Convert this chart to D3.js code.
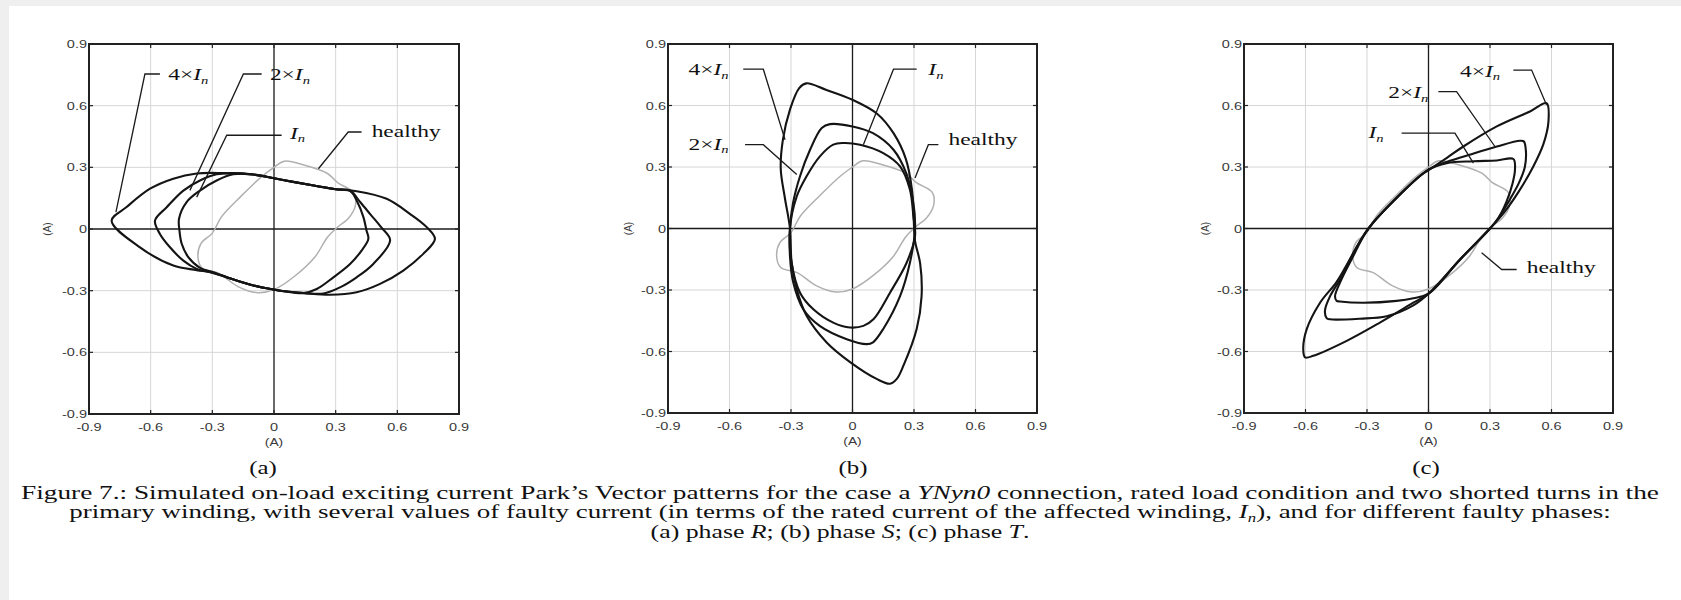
<!DOCTYPE html>
<html><head><meta charset="utf-8">
<script src="https://cdn.jsdelivr.net/npm/d3@7"></script>
<style>
html,body{margin:0;padding:0;background:#fff;}
svg{display:block;}
</style></head>
<body>
<svg id="fig" width="1681" height="600"></svg>
<script>
// Axis ticks shared by all three panels
const tickValues = [-0.9, -0.6, -0.3, 0, 0.3, 0.6, 0.9];
const tickLabels = ["-0.9", "-0.6", "-0.3", "0", "0.3", "0.6", "0.9"];
const panelLetters = ["(a)", "(b)", "(c)"];

// Park's vector locus, healthy transformer (same in every panel) [iD, iQ] in A
const healthy = [[0.05,0.33],[0.15,0.31],[0.26,0.27],[0.31,0.225],[0.39,0.175],[0.395,0.11],[0.36,0.05],[0.31,0.01],[0.26,-0.04],[0.2,-0.135],[0.1,-0.23],[0.0,-0.295],[-0.08,-0.31],[-0.175,-0.28],[-0.27,-0.215],[-0.35,-0.19],[-0.37,-0.135],[-0.355,-0.07],[-0.3,-0.02],[-0.255,0.06],[-0.16,0.16],[-0.06,0.255],[0.0,0.3]];

// (a) faulty phase R
const phaseR_In  = [[-0.462,0.05],[-0.425,0.131],[-0.36,0.187],[-0.279,0.236],[-0.198,0.266],[-0.1,0.265],[0,0.247],[0.1,0.228],[0.2,0.21],[0.3,0.193],[0.37,0.186],[0.402,0.139],[0.435,0.058],[0.45,-0.007],[0.459,-0.048],[0.426,-0.105],[0.37,-0.17],[0.289,-0.235],[0.208,-0.292],[0.143,-0.312],[0.05,-0.303],[0,-0.295],[-0.1,-0.275],[-0.2,-0.245],[-0.295,-0.21],[-0.36,-0.189],[-0.417,-0.137],[-0.449,-0.072],[-0.46,-0.007]];
const phaseR_2In = [[-0.579,0.041],[-0.522,0.106],[-0.441,0.187],[-0.36,0.236],[-0.279,0.266],[-0.2,0.272],[-0.1,0.265],[0,0.247],[0.1,0.228],[0.2,0.21],[0.3,0.193],[0.37,0.186],[0.42,0.13],[0.47,0.07],[0.52,0.01],[0.565,-0.055],[0.483,-0.17],[0.402,-0.235],[0.321,-0.284],[0.24,-0.314],[0.15,-0.312],[0.05,-0.303],[0,-0.295],[-0.1,-0.275],[-0.2,-0.245],[-0.3,-0.213],[-0.376,-0.194],[-0.441,-0.154],[-0.506,-0.089],[-0.555,-0.024]];
const phaseR_4In = [[-0.79,0.04],[-0.717,0.107],[-0.603,0.196],[-0.49,0.245],[-0.376,0.27],[-0.25,0.272],[-0.1,0.265],[0,0.247],[0.1,0.228],[0.2,0.21],[0.3,0.193],[0.402,0.184],[0.548,0.147],[0.661,0.074],[0.743,0.009],[0.783,-0.048],[0.726,-0.121],[0.629,-0.202],[0.516,-0.267],[0.402,-0.308],[0.272,-0.32],[0.15,-0.312],[0.05,-0.303],[0,-0.295],[-0.1,-0.275],[-0.2,-0.245],[-0.3,-0.213],[-0.376,-0.2],[-0.49,-0.178],[-0.652,-0.089]];

// (b) faulty phase S
const phaseS_In  = [[-0.305,0.0],[-0.272,0.157],[-0.224,0.255],[-0.159,0.352],[-0.094,0.409],[-0.045,0.417],[0.037,0.409],[0.15,0.368],[0.232,0.303],[0.28,0.19],[0.297,0.06],[0.305,-0.037],[0.264,-0.167],[0.183,-0.313],[0.102,-0.443],[0.053,-0.475],[-0.012,-0.483],[-0.094,-0.459],[-0.191,-0.394],[-0.256,-0.313],[-0.297,-0.167]];
const phaseS_2In = [[-0.305,0.0],[-0.29,0.125],[-0.256,0.255],[-0.207,0.384],[-0.15,0.49],[-0.11,0.509],[0.0,0.498],[0.1,0.465],[0.2,0.384],[0.262,0.27],[0.297,0.125],[0.305,-0.005],[0.28,-0.167],[0.232,-0.33],[0.15,-0.49],[0.1,-0.555],[0.07,-0.564],[-0.028,-0.54],[-0.16,-0.475],[-0.24,-0.394],[-0.289,-0.264],[-0.305,-0.135]];
const phaseS_4In = [[-0.305,0.0],[-0.33,0.15],[-0.35,0.29],[-0.34,0.43],[-0.305,0.58],[-0.26,0.685],[-0.225,0.708],[-0.13,0.677],[0.0,0.628],[0.12,0.56],[0.2,0.465],[0.26,0.34],[0.29,0.19],[0.298,0.06],[0.305,-0.06],[0.33,-0.17],[0.337,-0.33],[0.313,-0.49],[0.25,-0.665],[0.215,-0.735],[0.183,-0.757],[0.12,-0.735],[-0.01,-0.653],[-0.126,-0.556],[-0.224,-0.426],[-0.272,-0.297],[-0.297,-0.167]];

// (c) faulty phase T
const phaseT_In  = [[-0.448,-0.353],[-0.456,-0.33],[-0.43,-0.26],[-0.375,-0.15],[-0.293,0.0],[-0.155,0.15],[0.0,0.287],[0.089,0.319],[0.219,0.328],[0.333,0.332],[0.414,0.339],[0.422,0.29],[0.41,0.22],[0.38,0.13],[0.34,0.05],[0.3,0.0],[0.154,-0.151],[0.0,-0.318],[-0.074,-0.34],[-0.155,-0.353],[-0.318,-0.362],[-0.432,-0.356]];
const phaseT_2In = [[-0.497,-0.437],[-0.505,-0.4],[-0.48,-0.33],[-0.42,-0.23],[-0.375,-0.135],[-0.293,0.0],[-0.155,0.15],[0.0,0.287],[0.105,0.33],[0.2,0.36],[0.333,0.4],[0.446,0.428],[0.465,0.425],[0.475,0.38],[0.47,0.3],[0.44,0.22],[0.39,0.13],[0.34,0.05],[0.3,0.0],[0.154,-0.151],[0.0,-0.318],[-0.074,-0.375],[-0.204,-0.428],[-0.334,-0.44],[-0.48,-0.443]];
const phaseT_4In = [[-0.602,-0.629],[-0.611,-0.589],[-0.594,-0.491],[-0.529,-0.362],[-0.448,-0.26],[-0.375,-0.135],[-0.293,0.0],[-0.155,0.15],[-0.05,0.25],[0.0,0.285],[0.09,0.345],[0.17,0.4],[0.333,0.498],[0.495,0.571],[0.576,0.611],[0.585,0.52],[0.56,0.41],[0.51,0.3],[0.44,0.18],[0.37,0.08],[0.3,0.0],[0.154,-0.151],[0.0,-0.318],[-0.074,-0.362],[-0.237,-0.459],[-0.399,-0.548],[-0.562,-0.621]];

// Label pieces: plain text, italic I, italic subscript n
const labelParts = {
  "4In": [{t:"4×"},{t:"I",i:true},{t:"n",i:true,sub:true}],
  "2In": [{t:"2×"},{t:"I",i:true},{t:"n",i:true,sub:true}],
  "In":  [{t:"I",i:true},{t:"n",i:true,sub:true}],
  "healthy": [{t:"healthy"}]
};

// Layout of the three panels and their callouts (callouts in data units)
const panels = [
  { left: 89, top: 44, size: 370, letterX: 263, yLabelOff: 42,
    curves: {healthy: healthy, In: phaseR_In, "2In": phaseR_2In, "4In": phaseR_4In},
    notes: [
      {key:"4In", at:[-0.514,0.749], leader:[[-0.555,0.754],[-0.628,0.754],[-0.769,0.082]]},
      {key:"2In", at:[-0.02,0.749],  leader:[[-0.06,0.754],[-0.149,0.754],[-0.409,0.188]]},
      {key:"In",  at:[0.078,0.464],  leader:[[0.037,0.456],[-0.23,0.456],[-0.376,0.155]]},
      {key:"healthy", at:[0.475,0.472], leader:[[0.426,0.472],[0.361,0.472],[0.216,0.293]]}
    ]},
  { left: 668, top: 44, size: 369, letterX: 853, yLabelOff: 40,
    curves: {healthy: healthy, In: phaseS_In, "2In": phaseS_2In, "4In": phaseS_4In},
    notes: [
      {key:"4In", at:[-0.8,0.773], leader:[[-0.533,0.777],[-0.435,0.777],[-0.329,0.433]]},
      {key:"2In", at:[-0.8,0.409], leader:[[-0.524,0.409],[-0.435,0.409],[-0.272,0.263]]},
      {key:"In",  at:[0.37,0.773], leader:[[0.313,0.777],[0.2,0.777],[0.053,0.409]]},
      {key:"healthy", at:[0.468,0.433], leader:[[0.419,0.409],[0.37,0.409],[0.305,0.246]]}
    ]},
  { left: 1244, top: 44, size: 369, letterX: 1426, yLabelOff: 39,
    curves: {healthy: healthy, In: phaseT_In, "2In": phaseT_2In, "4In": phaseT_4In},
    notes: [
      {key:"4In", at:[0.154,0.765], leader:[[0.414,0.773],[0.503,0.773],[0.576,0.603]]},
      {key:"2In", at:[-0.196,0.66], leader:[[0.048,0.668],[0.137,0.668],[0.324,0.4]]},
      {key:"In",  at:[-0.293,0.465], leader:[[-0.131,0.465],[0.129,0.465],[0.219,0.319]]},
      {key:"healthy", at:[0.479,-0.191], leader:[[0.43,-0.2],[0.357,-0.2],[0.259,-0.118]]}
    ]}
];

const K = 1.38;              // horizontal stretch applied to the lettering
const SERIF = "'Liberation Serif','Times New Roman',serif";
const SANS = "'Liberation Sans',Arial,sans-serif";

const svg = d3.select("#fig");
svg.append("rect").attr("width", 1681).attr("height", 600).attr("fill", "#efefef");
svg.append("rect").attr("x", 9).attr("y", 6).attr("width", 1672).attr("height", 594).attr("fill", "#fff");

// text placed at (x, y) and widened by k
function wideText(parent, x, y, k) {
  return parent.append("g").attr("transform", `translate(${x},${y}) scale(${k},1)`).append("text");
}
function fillParts(textSel, parts, size) {
  parts.forEach((p, idx) => {
    const ts = textSel.append("tspan").text(p.t);
    if (p.i) ts.attr("font-style", "italic");
    if (p.sub) ts.attr("font-size", size * 0.62).attr("dy", size * 0.22);
    else if (idx > 0 && parts[idx - 1].sub) ts.attr("dy", -size * 0.22);
  });
}

panels.forEach((P, pi) => {
  const x = d3.scaleLinear().domain([-0.9, 0.9]).range([P.left, P.left + P.size]);
  const y = d3.scaleLinear().domain([-0.9, 0.9]).range([P.top + P.size, P.top]);
  const g = svg.append("g");

  // grid
  const inner = tickValues.filter(v => v !== 0 && Math.abs(v) < 0.9);
  g.append("g").selectAll("line").data(inner).join("line")
    .attr("x1", d => x(d)).attr("x2", d => x(d)).attr("y1", y(0.9)).attr("y2", y(-0.9))
    .attr("stroke", "#d6d6d6").attr("stroke-width", 1);
  g.append("g").selectAll("line").data(inner).join("line")
    .attr("y1", d => y(d)).attr("y2", d => y(d)).attr("x1", x(-0.9)).attr("x2", x(0.9))
    .attr("stroke", "#d6d6d6").attr("stroke-width", 1);

  // zero axes
  g.append("line").attr("x1", x(0)).attr("x2", x(0)).attr("y1", y(0.9)).attr("y2", y(-0.9))
    .attr("stroke", "#1a1a1a").attr("stroke-width", 1.3);
  g.append("line").attr("y1", y(0)).attr("y2", y(0)).attr("x1", x(-0.9)).attr("x2", x(0.9))
    .attr("stroke", "#1a1a1a").attr("stroke-width", 1.3);

  // loci
  const line = d3.line().x(d => x(d[0])).y(d => y(d[1])).curve(d3.curveCatmullRomClosed.alpha(0.5));
  g.append("path").attr("d", line(P.curves.healthy)).attr("fill", "none")
    .attr("stroke", "#b0b0b0").attr("stroke-width", 1.5);
  ["In", "2In", "4In"].forEach(k => {
    g.append("path").attr("d", line(P.curves[k])).attr("fill", "none")
      .attr("stroke", "#141414").attr("stroke-width", 2.1).attr("stroke-linejoin", "round");
  });

  // frame
  g.append("rect").attr("x", x(-0.9)).attr("y", y(0.9)).attr("width", x(0.9) - x(-0.9)).attr("height", y(-0.9) - y(0.9))
    .attr("fill", "none").attr("stroke", "#222").attr("stroke-width", 2);

  // inward tick marks on all sides
  const tk = g.append("g").attr("stroke", "#222").attr("stroke-width", 1.2);
  tickValues.forEach(v => {
    tk.append("line").attr("x1", x(v)).attr("x2", x(v)).attr("y1", y(-0.9)).attr("y2", y(-0.9) - 4);
    tk.append("line").attr("x1", x(v)).attr("x2", x(v)).attr("y1", y(0.9)).attr("y2", y(0.9) + 4);
    tk.append("line").attr("y1", y(v)).attr("y2", y(v)).attr("x1", x(-0.9)).attr("x2", x(-0.9) + 4);
    tk.append("line").attr("y1", y(v)).attr("y2", y(v)).attr("x1", x(0.9)).attr("x2", x(0.9) - 4);
  });

  // tick labels
  tickValues.forEach((v, i) => {
    wideText(g, x(v), y(-0.9) + 17, K).attr("text-anchor", "middle")
      .attr("font-family", SANS).attr("font-size", 10.5).attr("fill", "#3a3a3a").text(tickLabels[i]);
    wideText(g, x(-0.9) - 2, y(v) + 4, K).attr("text-anchor", "end")
      .attr("font-family", SANS).attr("font-size", 10.5).attr("fill", "#3a3a3a").text(tickLabels[i]);
  });

  // axis titles
  wideText(g, x(0), y(-0.9) + 32, K).attr("text-anchor", "middle")
    .attr("font-family", SANS).attr("font-size", 10).attr("fill", "#3a3a3a").text("(A)");
  g.append("text").attr("transform", `translate(${P.left - P.yLabelOff},${y(0)}) rotate(-90)`)
    .attr("text-anchor", "middle").attr("dy", "0.35em")
    .attr("font-family", SANS).attr("font-size", 10).attr("fill", "#3a3a3a").text("(A)");

  // callouts
  P.notes.forEach(n => {
    g.append("path").attr("d", d3.line().x(d => x(d[0])).y(d => y(d[1]))(n.leader))
      .attr("fill", "none").attr("stroke", "#1a1a1a").attr("stroke-width", 1.3);
    const t = wideText(g, x(n.at[0]), y(n.at[1]) + 5, K)
      .attr("font-family", SERIF).attr("font-size", 17).attr("fill", "#111");
    fillParts(t, labelParts[n.key], 17);
  });

  // panel letter
  wideText(svg, P.letterX, 474, K).attr("text-anchor", "middle")
    .attr("font-family", SERIF).attr("font-size", 18).attr("fill", "#111").text(panelLetters[pi]);
});

// caption, each line widened to its set span
const captionLines = [
  [{t:"Figure 7.: Simulated on-load exciting current Park’s Vector patterns for the case a "},{t:"YNyn0",i:true},{t:" connection, rated load condition and two shorted turns in the"}],
  [{t:"primary winding, with several values of faulty current (in terms of the rated current of the affected winding, "},{t:"I",i:true},{t:"n",i:true,sub:true},{t:"), and for different faulty phases:"}],
  [{t:"(a) phase "},{t:"R",i:true},{t:"; (b) phase "},{t:"S",i:true},{t:"; (c) phase "},{t:"T",i:true},{t:"."}]
];
const captionSpans = [1639, 1542, 379];
captionLines.forEach((parts, i) => {
  const grp = svg.append("g");
  const t = grp.append("text").attr("text-anchor", "middle")
    .attr("font-family", SERIF).attr("font-size", 19).attr("fill", "#111");
  fillParts(t, parts, 19);
  const w = t.node().getComputedTextLength();
  grp.attr("transform", `translate(840,${499 + i * 19.3}) scale(${captionSpans[i] / w},1)`);
});
</script>
</body></html>
